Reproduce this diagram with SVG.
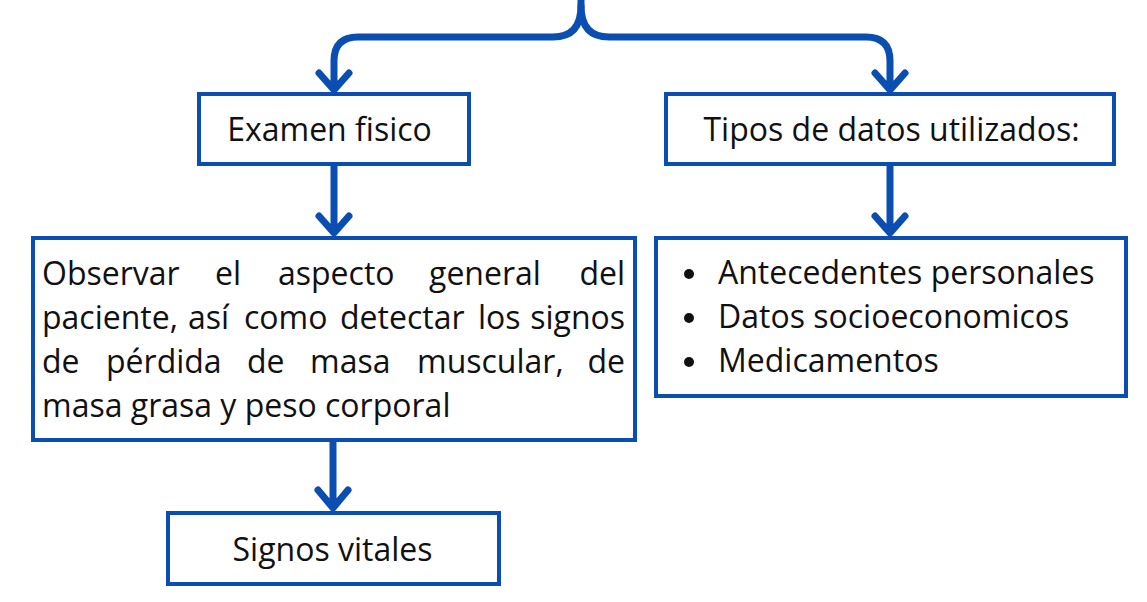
<svg xmlns="http://www.w3.org/2000/svg" width="1147" height="602" viewBox="0 0 1147 602">
<style>
.box{fill:#fff;stroke:#0a4eb1;stroke-width:4}
.t{font-family:"Open Sans","Noto Sans",sans-serif;font-size:32px;fill:#111}
.c{fill:none;stroke:#0a4eb1;stroke-width:7;stroke-linecap:round;stroke-linejoin:round}
</style>
<rect width="1147" height="602" fill="#fff"/>
<g id="connectors">
<path class="c" d="M581,-4 V6 Q581,37 553,37 H358 Q334,37 334,61 V89 M319,73 L334,90 L349,73"/>
<path class="c" d="M581,6 Q581,37 609,37 H866 Q890,37 890,61 V89 M875,73 L890,90 L905,73"/>
<path class="c" d="M334,166 V232 M319,216 L334,233 L349,216"/>
<path class="c" d="M890,166 V232 M875,216 L890,233 L905,216"/>
<path class="c" d="M333,442 V507 M318,490 L333,508 L348,490"/>
</g>
<g id="examen">
<rect class="box" x="199" y="94" width="270" height="70"/>
<text class="t" x="329.5" y="141" text-anchor="middle">Examen fisico</text>
</g>
<g id="tipos">
<rect class="box" x="666" y="94" width="448" height="70"/>
<text class="t" x="891.5" y="141" text-anchor="middle">Tipos de datos utilizados:</text>
</g>
<g id="observar">
<rect class="box" x="33" y="238" width="602" height="202"/>
<text class="t" y="285"><tspan x="42">Observar</tspan><tspan x="215">el</tspan><tspan x="278">aspecto</tspan><tspan x="429">general</tspan></text>
<text class="t" y="285" x="625" text-anchor="end">del</text>
<text class="t" y="329"><tspan x="42">paciente,</tspan><tspan x="188">así</tspan><tspan x="244">como</tspan><tspan x="340">detectar</tspan><tspan x="478">los</tspan></text>
<text class="t" y="329" x="625" text-anchor="end">signos</text>
<text class="t" y="373"><tspan x="42">de</tspan><tspan x="106">pérdida</tspan><tspan x="247">de</tspan><tspan x="310">masa</tspan><tspan x="417">muscular,</tspan></text>
<text class="t" y="373" x="625" text-anchor="end">de</text>
<text class="t" x="42" y="417">masa grasa y peso corporal</text>
</g>
<g id="lista">
<rect class="box" x="656" y="238" width="470" height="158"/>
<circle cx="689" cy="274" r="5" fill="#111"/>
<circle cx="689" cy="318" r="5" fill="#111"/>
<circle cx="689" cy="362" r="5" fill="#111"/>
<text class="t" x="718" y="284">Antecedentes personales</text>
<text class="t" x="718" y="328">Datos socioeconomicos</text>
<text class="t" x="718" y="372">Medicamentos</text>
</g>
<g id="signos">
<rect class="box" x="168" y="513" width="331" height="71"/>
<text class="t" x="332.5" y="561" text-anchor="middle">Signos vitales</text>
</g>
</svg>
